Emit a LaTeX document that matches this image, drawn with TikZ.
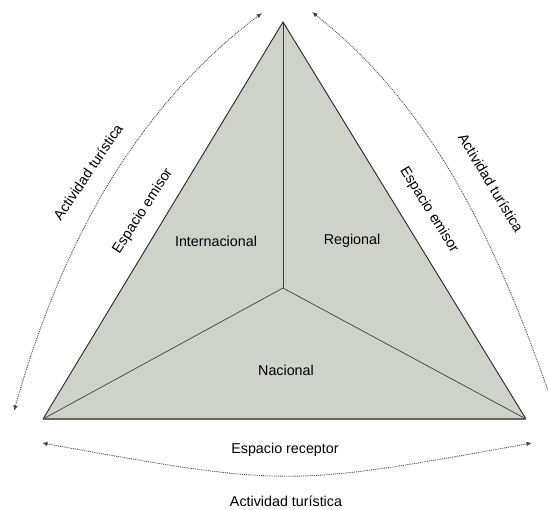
\documentclass[tikz,border=0pt]{standalone}
\usepackage{fontspec}
\setmainfont{Liberation Sans}
\usetikzlibrary{arrows.meta}
\definecolor{trifill}{RGB}{206,210,201}
\definecolor{arcgray}{RGB}{70,70,70}
\definecolor{basegray}{RGB}{100,102,96}
\tikzset{
  lbl/.style={font=\fontsize{14.3}{16}\selectfont, inner sep=0pt},
  arcline/.style={draw=arcgray, line width=0.9pt, densely dotted,
    {Latex[length=5.5pt,width=4.5pt]}-{Latex[length=5.5pt,width=4.5pt]}},
  edge/.style={draw=black!85, line width=0.9pt},
  inner/.style={draw=black!75, line width=0.7pt},
}
\begin{document}
\begin{tikzpicture}[x=1pt,y=-1pt]
\useasboundingbox (0,0) rectangle (548,510);
% vertices
\coordinate (T) at (283,22);
\coordinate (L) at (43,419);
\coordinate (R) at (526,419);
\coordinate (C) at (283,288);
\fill[trifill] (T) -- (L) -- (R) -- cycle;
\draw[inner] (T) -- (C);
\draw[inner] (C) -- (L);
\draw[inner] (C) -- (R);
\draw[edge] (L) -- (T) -- (R);
\draw[draw=basegray, line width=1.8pt] (L) -- (R);
% arcs
\coordinate (a1) at (14,411);
\coordinate (a2) at (262,13);
\coordinate (ac1) at (58.5,254.4);
\coordinate (ac2) at (128.4,113.9);
\coordinate (b1) at (312,12);
\coordinate (b2) at (556,413);
\coordinate (bc1) at (442.8,115.5);
\coordinate (bc2) at (502.9,262.1);
\coordinate (c1) at (42,443);
\coordinate (c2) at (532,443);
\coordinate (cc) at (287,487);
\draw[arcline] (a1) .. controls (ac1) and (ac2) .. (a2);
\draw[arcline] (b1) .. controls (bc1) and (bc2) .. (b2);
\draw[arcline] (c1) .. controls (cc) .. (c2);
% labels
\node[lbl] (intl) at (216,241) {Internacional};
\node[lbl] (regl) at (352,241) {Regional};
\node[lbl] (nacl) at (286,370) {Nacional};
\node[lbl] (recep) at (285,450) {Espacio receptor};
\node[lbl] (actb) at (286,501) {Actividad turística};
\node[lbl, rotate=57] (emil) at (143,211) {Espacio emisor};
\node[lbl, rotate=56] (actl) at (88,172) {Actividad turística};
\node[lbl, rotate=-58] (emir) at (429,210) {Espacio emisor};
\node[lbl, rotate=-59] (actr) at (491,183) {Actividad turística};
\end{tikzpicture}
\end{document}
